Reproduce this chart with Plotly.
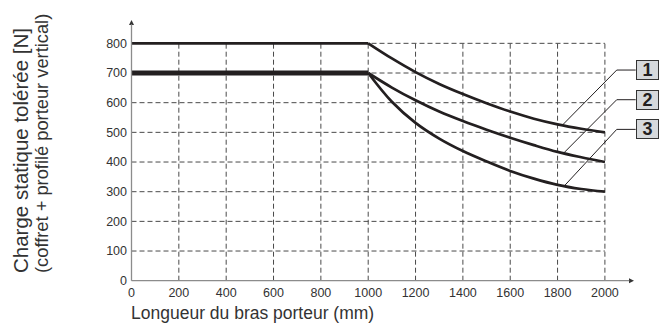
import numpy as np
import plotly.graph_objects as go

# --- data -------------------------------------------------------------
flat_x = [0, 1000]
flat_1 = [800, 800]
flat_23 = [700, 700]

curve_x = [1000, 1100, 1200, 1300, 1400, 1500, 1600, 1700, 1800, 1900, 2000]
curve_1 = [800, 749, 703, 663, 629, 598, 570, 546, 527, 512, 500]
curve_2 = [700, 651, 608, 570, 538, 509, 482, 457, 434, 416, 400]
curve_3 = [700, 603, 532, 479, 437, 402, 370, 344, 323, 309, 300]

x_ticks = list(range(0, 2001, 200))
y_ticks = list(range(0, 801, 100))

labels = ["1", "2", "3"]
leader_x = [1820, 1825, 1828]       # where each leader touches its curve
label_y = [710, 610, 510]           # height of the numbered boxes
kink_x = 2050
box_left_x = 2130
box_center_x = 2178

y_title_lines = ["Charge statique tolérée [N]", "(coffret + profilé porteur vertical)"]
x_title = "Longueur du bras porteur (mm)"

# --- layout geometry --------------------------------------------------
W, H = 666, 327
ML, MR, MT, MB = 128, 0, 5, 44
X0PX, XPX = 131.5, 0.2367     # pixel of x=0, pixels per mm
Y0PX, YPX = 280.7, 0.2967     # pixel of y=0, pixels per N
x_range = [(ML - X0PX) / XPX, (W - MR - X0PX) / XPX]
y_range = [(Y0PX - (H - MB)) / YPX, (Y0PX - MT) / YPX]
x_axis_end = 2123
y_axis_end = 879


def paper_x(px):
    return (px - ML) / (W - ML - MR)


def paper_y(py):
    return (H - MB - py) / (H - MT - MB)


INK = "#231f20"
GRID = "#4a4a4a"
AXIS = "#8c8c8c"
TEXT = "#333333"
FONT = "Liberation Sans, Arial, sans-serif"

fig = go.Figure()

# dashed grid limited to the 0..2000 / 0..800 field
shapes = []
for yv in y_ticks[1:]:
    shapes.append(dict(type="line", xref="x", yref="y", x0=0, x1=x_ticks[-1],
                       y0=yv, y1=yv, layer="below",
                       line=dict(color=GRID, width=1, dash="5px,3px")))
for xv in x_ticks[1:]:
    shapes.append(dict(type="line", xref="x", yref="y", x0=xv, x1=xv,
                       y0=0, y1=y_ticks[-1], layer="below",
                       line=dict(color=GRID, width=1, dash="5px,3px")))
# axes with arrows
shapes.append(dict(type="line", xref="x", yref="y", x0=0, x1=x_axis_end - 20,
                   y0=0, y1=0, line=dict(color=AXIS, width=1.3)))
shapes.append(dict(type="line", xref="x", yref="y", x0=0, x1=0,
                   y0=0, y1=y_axis_end - 15, line=dict(color=AXIS, width=1.3)))

fig.add_trace(go.Scatter(x=[x_axis_end, 0], y=[0, y_axis_end], mode="markers",
                         marker=dict(symbol=["arrow-right", "arrow-up"], size=5,
                                     color=TEXT),
                         cliponaxis=False, hoverinfo="skip", showlegend=False))

# load curves
fig.add_trace(go.Scatter(x=flat_x, y=flat_23, mode="lines",
                         line=dict(color=INK, width=5), showlegend=False))
fig.add_trace(go.Scatter(x=flat_x, y=flat_1, mode="lines",
                         line=dict(color=INK, width=2.8), showlegend=False))
for ys in (curve_1, curve_2, curve_3):
    fig.add_trace(go.Scatter(x=curve_x, y=ys, mode="lines",
                             line=dict(color=INK, width=2.7, shape="spline",
                                       smoothing=1.0),
                             showlegend=False))

# leaders and numbered boxes
annotations = []
for lab, lx, ly, ys in zip(labels, leader_x, label_y, (curve_1, curve_2, curve_3)):
    ay = float(np.interp(lx, curve_x, ys))
    fig.add_trace(go.Scatter(x=[lx, kink_x, box_left_x], y=[ay, ly, ly],
                             mode="lines", line=dict(color=INK, width=1),
                             hoverinfo="skip", showlegend=False))
    annotations.append(dict(x=box_center_x, y=ly, xref="x", yref="y",
                            text="<b>%s</b>" % lab, showarrow=False,
                            font=dict(family=FONT, size=18, color=INK),
                            bgcolor="#d6d9dc", bordercolor="#333333",
                            borderwidth=1, borderpad=0, width=21, height=18))

# axis titles
annotations.append(dict(x=paper_x(129), xref="paper", y=paper_y(313), yref="paper",
                        xanchor="left", yanchor="middle", showarrow=False,
                        text=x_title,
                        font=dict(family=FONT, size=17.5, color=TEXT)))
for line, cx, cy, fs in zip(y_title_lines, (20, 41), (151, 144), (20.5, 18.3)):
    annotations.append(dict(x=paper_x(cx), xref="paper", y=paper_y(cy), yref="paper",
                            xanchor="center", yanchor="middle", showarrow=False,
                            textangle=-90, text=line,
                            font=dict(family=FONT, size=fs, color=TEXT)))

fig.update_layout(
    width=W, height=H,
    margin=dict(l=ML, r=MR, t=MT, b=MB),
    paper_bgcolor="white", plot_bgcolor="white",
    shapes=shapes, annotations=annotations,
    xaxis=dict(range=x_range, tickvals=x_ticks, showgrid=False, zeroline=False,
               showline=False, ticks="",
               tickfont=dict(family=FONT, size=12.5, color=TEXT)),
    yaxis=dict(range=y_range, tickvals=y_ticks, showgrid=False, zeroline=False,
               showline=False, ticks="",
               tickfont=dict(family=FONT, size=12.5, color=TEXT)),
)

fig.write_html("out.html")
